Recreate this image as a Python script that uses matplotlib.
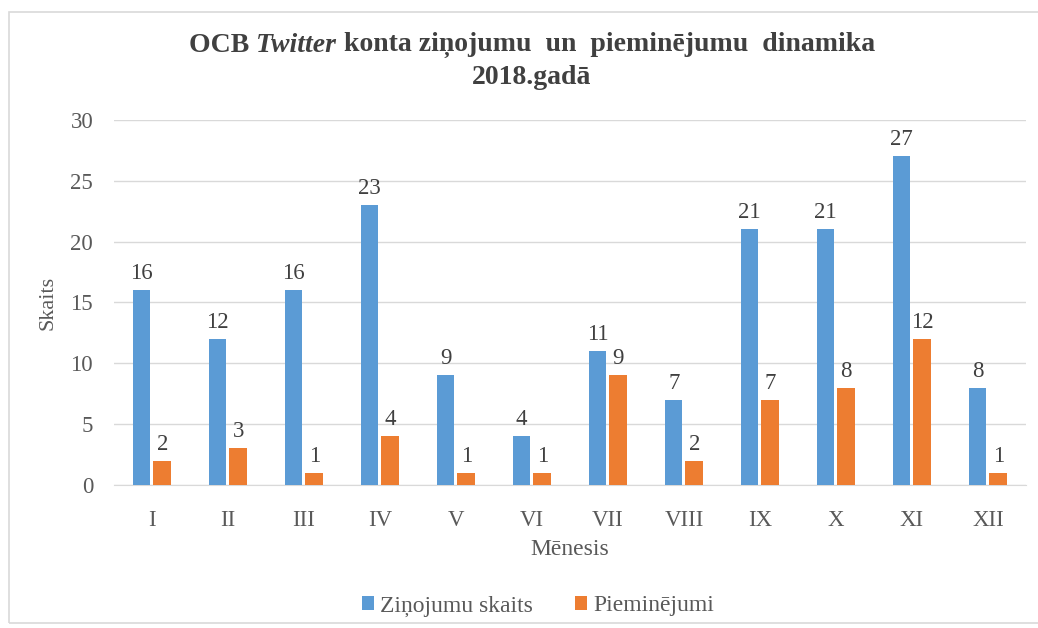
import matplotlib.pyplot as plt
import numpy as np

# Dati
menesi = ["I", "II", "III", "IV", "V", "VI", "VII", "VIII", "IX", "X", "XI", "XII"]
zinojumi = [16, 12, 16, 23, 9, 4, 11, 7, 21, 21, 27, 8]
pieminejumi = [2, 3, 1, 4, 1, 1, 9, 2, 7, 8, 12, 1]

zils = "#5B9BD5"
oranzs = "#ED7D31"
teksts = "#595959"
serif = "Liberation Serif"

fig = plt.figure(figsize=(10.38, 6.28), dpi=100)
ax = fig.add_axes([0.1098, 0.2277, 0.8786, 0.5813])

# Rāmis ap diagrammu
fig.patches.append(plt.Rectangle((9 / 1038, 5 / 628), 1.2, 611 / 628, transform=fig.transFigure,
                                 fill=False, edgecolor="#D9D9D9", linewidth=1.2))

x = np.arange(len(menesi))
w = 0.23
b1 = ax.bar(x - 0.135, zinojumi, w, color=zils, label="Ziņojumu skaits", zorder=3)
b2 = ax.bar(x + 0.135, pieminejumi, w, color=oranzs, label="Pieminējumi", zorder=3)

for bars in (b1, b2):
    for b in bars:
        ax.text(b.get_x() + b.get_width() / 2, b.get_height() + 0.5, f"{int(b.get_height())}",
                ha="center", va="bottom", fontsize=16.5, family=serif, color="#404040")

ax.set_xlim(-0.5, len(menesi) - 0.5)
ax.set_ylim(0, 30)
ax.set_yticks(range(0, 31, 5))
ax.set_xticks(x)
ax.set_xticklabels(menesi)
ax.yaxis.grid(True, color="#D9D9D9", linewidth=1, zorder=0)
for s in ["top", "right", "left"]:
    ax.spines[s].set_visible(False)
ax.spines["bottom"].set_color("#D9D9D9")
ax.tick_params(length=0, labelsize=16.5, labelcolor=teksts)
ax.tick_params(axis="x", pad=18)
ax.tick_params(axis="y", pad=15)
for lbl in ax.get_xticklabels() + ax.get_yticklabels():
    lbl.set_family(serif)

ax.set_ylabel("Skaits", fontsize=16, family=serif, color=teksts, labelpad=9)
ax.set_xlabel("Mēnesis", fontsize=17, family=serif, color=teksts, labelpad=6)

# Virsraksts ar slīprakstu vārdam "Twitter"
fig.canvas.draw()
r = fig.canvas.get_renderer()
dalas = [("OCB ", "normal"), ("Twitter", "italic"), (" konta ziņojumu  un  pieminējumu  dinamika", "normal")]
objekti = []
for t, st in dalas:
    o = fig.text(0, 45 / 628, t, fontsize=20, fontweight="bold", style=st, family=serif,
                 color="#404040", va="center", ha="left")
    objekti.append(o)
platumi = [o.get_window_extent(r).width for o in objekti]
kopa = sum(platumi)
centrs = 532
x0 = centrs - kopa / 2
for o, pw in zip(objekti, platumi):
    o.set_x(x0 / 1038)
    o.set_y(1 - 45 / 628)
    x0 += pw
fig.text(centrs / 1038, 1 - 78 / 628, "2018.gadā", fontsize=20, fontweight="bold",
         family=serif, color="#404040", ha="center", va="center")

leg = fig.legend(loc="center", bbox_to_anchor=(538 / 1038, 1 - 606 / 628), ncol=2, frameon=False,
                 prop={"family": serif, "size": 17}, handlelength=0.5, handleheight=0.5,
                 handletextpad=0.25, columnspacing=1.8)
for t in leg.get_texts():
    t.set_color(teksts)

plt.savefig("out.png", dpi=100)
plt.close()
